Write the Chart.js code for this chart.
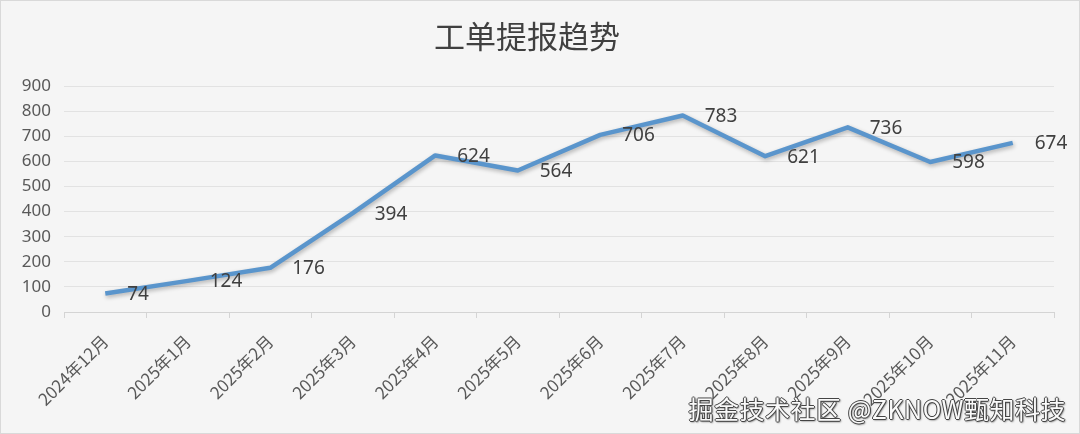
<!DOCTYPE html>
<html>
<head>
<meta charset="utf-8">
<script src="https://cdn.jsdelivr.net/npm/chart.js@4"></script>
<style>
  html, body { margin: 0; padding: 0; background: #f5f5f5; }
  #wrap { position: relative; width: 1080px; height: 434px; background: #f5f5f5; overflow: hidden; }
  #frame { position: absolute; left: 0; top: 0; width: 1080px; height: 434px; box-sizing: border-box;
           border: 1px solid #d9d9d9; pointer-events: none; }
  #mark { position: absolute; right: 14px; top: 390px; font: 25px "Noto Sans CJK SC", sans-serif;
          color: #fafafa; letter-spacing: 0.5px;
          text-shadow: -1px 0 0 #444, 1px 0 0 #444, 0 -1px 0 #444, 0 1px 0 #444, 1px 1px 2px #333; }
</style>
</head>
<body>
<div id="wrap">
  <canvas id="myChart" width="1080" height="434"></canvas>
  <div id="frame"></div>
  <div id="mark">掘金技术社区 @ZKNOW甄知科技</div>
</div>
<script>
// data
const months = ['2024年12月', '2025年1月', '2025年2月', '2025年3月', '2025年4月', '2025年5月',
  '2025年6月', '2025年7月', '2025年8月', '2025年9月', '2025年10月', '2025年11月'];
const tickets = [74, 124, 176, 394, 624, 564, 706, 783, 621, 736, 598, 674];
const yTicks = [0, 100, 200, 300, 400, 500, 600, 700, 800, 900];

// soft shadow under the line, like the Excel effect
const lineShadow = {
  id: 'lineShadow',
  beforeDatasetDraw(chart) {
    const ctx = chart.ctx;
    ctx.save();
    ctx.shadowColor = 'rgba(0,0,0,0.28)';
    ctx.shadowBlur = 4;
    ctx.shadowOffsetX = 1;
    ctx.shadowOffsetY = 2;
  },
  afterDatasetDraw(chart) {
    chart.ctx.restore();
  }
};

// value labels to the right of each point
const valueLabels = {
  id: 'valueLabels',
  afterDatasetsDraw(chart) {
    const ctx = chart.ctx;
    const meta = chart.getDatasetMeta(0);
    ctx.save();
    ctx.font = '19px "Noto Sans", sans-serif';
    ctx.fillStyle = '#404040';
    ctx.textAlign = 'left';
    ctx.textBaseline = 'middle';
    meta.data.forEach((pt, i) => {
      ctx.fillText(String(tickets[i]), pt.x + 22, pt.y + 1);
    });
    ctx.restore();
  }
};

const config = {
  type: 'line',
  data: {
    labels: months,
    datasets: [{
      label: '工单数',
      data: tickets,
      borderColor: '#5a95cc',
      borderWidth: 4.5,
      borderJoinStyle: 'round',
      pointRadius: 0,
      tension: 0,
      fill: false
    }]
  },
  options: {
    responsive: false,
    animation: false,
    layout: { padding: { left: 0, right: 26, top: 0, bottom: 0 } },
    plugins: {
      legend: { display: false },
      tooltip: { enabled: false },
      title: {
        display: true,
        text: '工单提报趋势',
        color: '#404040',
        font: { family: '"Noto Sans CJK SC", sans-serif', size: 31, weight: 'normal' },
        padding: { top: 18, bottom: 31 }
      }
    },
    scales: {
      x: {
        offset: true,
        grid: { display: true, drawOnChartArea: false, offset: true, tickLength: 6, color: '#d4d4d4' },
        border: { color: '#d4d4d4' },
        ticks: {
          color: '#595959',
          font: { family: '"Noto Sans CJK SC", sans-serif', size: 17 },
          maxRotation: 45,
          minRotation: 45,
          padding: 13,
          autoSkip: false
        },
        afterFit(scale) { scale.height = 122; }
      },
      y: {
        min: 0,
        max: 900,
        afterBuildTicks(scale) { scale.ticks = yTicks.map(v => ({ value: v })); },
        grid: { color: '#e2e2e2', drawTicks: false },
        border: { display: false },
        ticks: {
          color: '#595959',
          font: { family: '"Noto Sans", sans-serif', size: 17 },
          padding: 13
        },
        afterFit(scale) { scale.width = 64; }
      }
    }
  },
  plugins: [lineShadow, valueLabels]
};

const myChart = new Chart(document.getElementById('myChart'), config);
</script>
</body>
</html>
